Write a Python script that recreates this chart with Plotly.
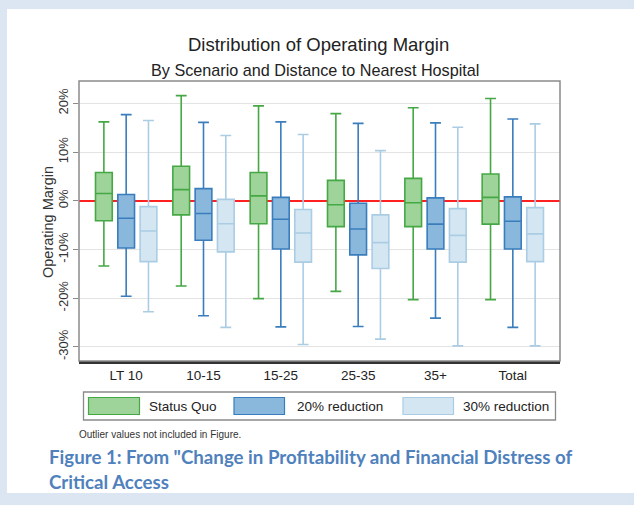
import plotly.graph_objects as go

categories = ["LT 10", "10-15", "15-25", "25-35", "35+", "Total"]
scenarios = ["Status Quo", "20% reduction", "30% reduction"]

sq_upper = [16.2, 21.6, 19.5, 17.9, 19.1, 21.0]
sq_q3 = [5.8, 7.1, 5.8, 4.2, 4.6, 5.5]
sq_median = [1.5, 2.3, 1.0, -0.8, -0.4, 0.7]
sq_q1 = [-4.1, -2.9, -4.7, -5.3, -5.3, -4.8]
sq_lower = [-13.4, -17.5, -20.1, -18.6, -20.3, -20.3]

r20_upper = [17.7, 16.1, 16.2, 15.9, 16.0, 16.8]
r20_q3 = [1.3, 2.5, 0.7, -0.5, 0.6, 0.8]
r20_median = [-3.6, -2.6, -3.8, -5.8, -4.8, -4.2]
r20_q1 = [-9.7, -8.1, -9.9, -11.1, -9.9, -9.9]
r20_lower = [-19.6, -23.6, -25.9, -25.8, -24.1, -26.0]

r30_upper = [16.5, 13.4, 13.6, 10.3, 15.1, 15.8]
r30_q3 = [-1.2, 0.3, -1.8, -2.9, -1.6, -1.4]
r30_median = [-6.2, -4.7, -6.6, -8.6, -7.1, -6.8]
r30_q1 = [-12.5, -10.5, -12.6, -13.9, -12.6, -12.5]
r30_lower = [-22.8, -26.0, -29.5, -28.4, -29.8, -29.8]

y_ticks = [20, 10, 0, -10, -20, -30]

fills = ["#9ed49a", "#8ab8dc", "#d3e6f2"]
lines = ["#45a845", "#3a7dbd", "#aacde4"]

stats = [
    (sq_lower, sq_q1, sq_median, sq_q3, sq_upper),
    (r20_lower, r20_q1, r20_median, r20_q3, r20_upper),
    (r30_lower, r30_q1, r30_median, r30_q3, r30_upper),
]

fig = go.Figure()
for name, (lo, q1, med, q3, up), fc, lc in zip(scenarios, stats, fills, lines):
    fig.add_trace(go.Box(
        name=name, x=categories, lowerfence=lo, q1=q1, median=med, q3=q3,
        upperfence=up, fillcolor=fc, line=dict(color=lc, width=1.6),
        whiskerwidth=0.65, boxpoints=False, showlegend=False,
        hoverinfo="skip",
    ))

L, R, T, B = 79, 74, 81, 144
W, H = 634, 505
pw, ph = W - L - R, H - T - B
FONT = "Liberation Sans, Arial"


def px(xp):
    return (xp - L) / pw


def py(yp):
    return (H - B - yp) / ph


shapes = []
# page white area
shapes.append(dict(type="rect", xref="paper", yref="paper",
                   x0=px(7), x1=px(640), y0=py(493), y1=py(9),
                   fillcolor="white", line=dict(width=0), layer="below"))
# plot frame
shapes.append(dict(type="rect", xref="paper", yref="paper", x0=0, x1=1, y0=0, y1=1,
                   line=dict(color="#8a8a8a", width=1.5), layer="above"))
# legend frame
shapes.append(dict(type="rect", xref="paper", yref="paper",
                   x0=px(83.5), x1=px(555.5), y0=py(420), y1=py(392),
                   line=dict(color="#8a8a8a", width=1.3), fillcolor="white"))

annotations = []
sw_x = [(88.5, 139.5, 147), (234, 284.5, 295), (403, 453.5, 461)]
for (a, b, t), name, fc, lc in zip(sw_x, scenarios, fills, lines):
    shapes.append(dict(type="rect", xref="paper", yref="paper",
                       x0=px(a), x1=px(b), y0=py(414.5), y1=py(397.5),
                       fillcolor=fc, line=dict(color=lc, width=1.2)))
    annotations.append(dict(text=name, xref="paper", yref="paper", x=px(t), y=py(406),
                            xanchor="left", yanchor="middle", showarrow=False,
                            font=dict(family=FONT, size=13.5, color="#222")))

annotations += [
    dict(text="Distribution of Operating Margin", xref="paper", yref="paper",
         x=px(318), y=py(44), xanchor="center", yanchor="middle", showarrow=False,
         font=dict(family=FONT, size=18.5, color="#222")),
    dict(text="By Scenario and Distance to Nearest Hospital", xref="paper", yref="paper",
         x=px(315), y=py(70), xanchor="center", yanchor="middle", showarrow=False,
         font=dict(family=FONT, size=16.2, color="#222")),
    dict(text="Operating Margin", xref="paper", yref="paper", x=px(48), y=py(222),
         textangle=-90, xanchor="center", yanchor="middle", showarrow=False,
         font=dict(family=FONT, size=14.5, color="#333")),
    dict(text="Outlier values not included in Figure.", xref="paper", yref="paper",
         x=px(77), y=py(434), xanchor="left", yanchor="middle", showarrow=False,
         font=dict(family=FONT, size=10, color="#333")),
    dict(text="Figure 1: From \"Change in Profitability and Financial Distress of",
         xref="paper", yref="paper", x=px(47), y=py(457), xanchor="left", yanchor="middle",
         showarrow=False, font=dict(family="Lato", size=18.7, color="#4f81bd", weight="bold")),
    dict(text="Critical Access", xref="paper", yref="paper", x=px(47), y=py(482),
         xanchor="left", yanchor="middle", showarrow=False,
         font=dict(family="Lato", size=18.7, color="#4f81bd", weight="bold")),
]

fig.update_layout(
    width=W, height=H, margin=dict(l=L, r=R, t=T, b=B),
    paper_bgcolor="#dce6f2", plot_bgcolor="white",
    boxmode="group", boxgap=0.135, boxgroupgap=0.25,
    shapes=shapes, annotations=annotations, showlegend=False,
    xaxis=dict(type="category", range=[-0.61, 5.61], showgrid=False, zeroline=False,
               showline=True, linecolor="#333", linewidth=3, ticks="",
               tickfont=dict(family=FONT, size=13.5, color="#222")),
    yaxis=dict(range=[-32.9, 24.6], tickvals=y_ticks, ticktext=[f"{v}%" for v in y_ticks],
               tickangle=-90, showgrid=True, gridcolor="#e3e3e3", gridwidth=1,
               zeroline=True, zerolinecolor="#ff2020", zerolinewidth=2.4,
               showline=False, ticks="outside", ticklen=5,
               tickcolor="#8a8a8a",
               tickfont=dict(family=FONT, size=13, color="#333")),
)

fig.write_html("out.html", config={"displayModeBar": False},
               post_script="document.body.style.margin='0px';")
